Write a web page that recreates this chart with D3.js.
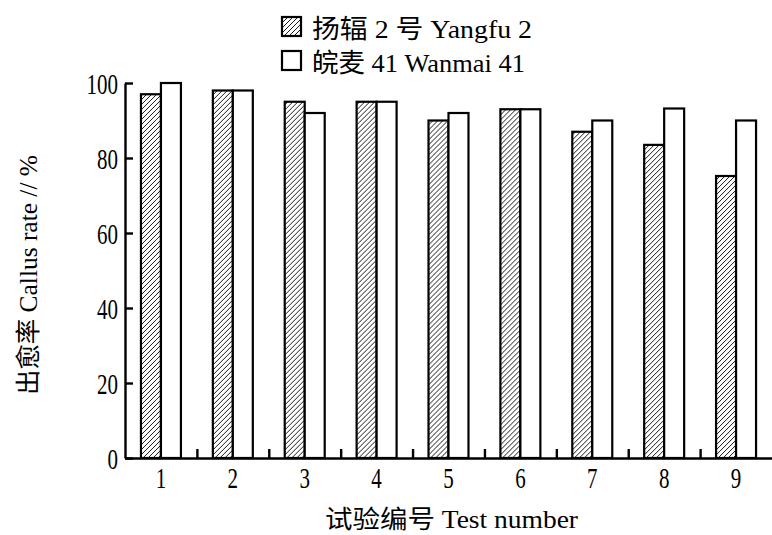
<!DOCTYPE html>
<html><head><meta charset="utf-8">
<script src="https://cdn.jsdelivr.net/npm/d3@7/dist/d3.min.js"></script>
<style>body{margin:0;background:#fff}svg{display:block}</style>
</head><body>
<svg id="chart" width="772" height="535"></svg>
<script>
const categories = ["1","2","3","4","5","6","7","8","9"];
const seriesNames = ["扬辐 2 号 Yangfu 2", "皖麦 41 Wanmai 41"];
const yangfu2 = [97, 98, 95, 95, 90, 93, 87, 83.5, 75.2];
const wanmai41 = [100, 98, 92, 95, 92, 93, 90, 93.2, 90];
const yTicks = [0, 20, 40, 60, 80, 100];
const xTitle = "试验编号 Test number";
const yTitle = "出愈率 Callus rate // %";

const svg = d3.select("#chart");
const M = {left:125, right:772, top:83, bottom:458};
const FONT = "'Liberation Serif','Noto Sans CJK SC',serif";
const SX = 0.7;

const defs = svg.append("defs");
const pat = defs.append("pattern").attr("id","hatch").attr("patternUnits","userSpaceOnUse")
  .attr("width",5).attr("height",5);
pat.append("rect").attr("width",5).attr("height",5).attr("fill","#fff");
pat.append("path").attr("d","M0,5 L5,0 M-1,1 L1,-1 M4,6 L6,4")
  .attr("stroke","#000").attr("stroke-width",0.9);

const y = d3.scaleLinear().domain([0,100]).range([M.bottom, M.top]);
const x0 = d3.scaleBand().domain(categories).range([M.left, M.right])
  .paddingInner(0.444).paddingOuter(0.222);
const x1 = d3.scaleBand().domain([0,1]).range([0, x0.bandwidth()]);
const xb = d3.scaleLinear().domain([0, categories.length]).range([M.left, M.right]);

const data = categories.map((c,i)=>({c, v:[yangfu2[i], wanmai41[i]]}));
const fills = ["url(#hatch)", "#fff"];

const g = svg.append("g");
g.selectAll("g.cat").data(data).join("g").attr("class","cat")
  .attr("transform", d=>`translate(${x0(d.c)},0)`)
  .selectAll("rect").data(d=>d.v.map((v,k)=>({v,k}))).join("rect")
  .attr("x", d=>x1(d.k)).attr("width", x1.bandwidth())
  .attr("y", d=>y(d.v)).attr("height", d=>y(0)-y(d.v))
  .attr("fill", d=>fills[d.k]).attr("stroke","#000").attr("stroke-width",2.2);

// Y axis
const yAxis = svg.append("g").attr("transform",`translate(${M.left},0)`)
  .call(d3.axisLeft(y).tickValues(yTicks).tickSize(-8).tickSizeOuter(0).tickPadding(8));
yAxis.select(".domain").attr("stroke-width",2.4);
yAxis.selectAll(".tick line").attr("stroke-width",2.4);
yAxis.selectAll("text").attr("font-family",FONT).attr("font-size",30)
  .attr("fill","#000").attr("transform",`scale(${SX},1)`).attr("x",-7/SX).attr("dy","0.34em");

// X axis labels
const xAxis = svg.append("g").attr("transform",`translate(0,${M.bottom})`)
  .call(d3.axisBottom(x0).tickSize(0).tickPadding(10));
xAxis.select(".domain").remove();
xAxis.selectAll(".tick").each(function(){
  const t = d3.select(this);
  const xx = +t.attr("transform").match(/translate\(([-\d.]+)/)[1];
  t.attr("transform",`translate(${xx},0)`);
  t.select("text").attr("font-family",FONT).attr("font-size",30).attr("fill","#000")
    .attr("transform",`scale(${SX},1)`).attr("y",30).attr("dy",0).attr("x",0);
});
// X axis line + boundary ticks
const xTickAxis = svg.append("g").attr("transform",`translate(0,${M.bottom})`)
  .call(d3.axisBottom(xb).tickValues(d3.range(1, categories.length)).tickSize(-9).tickSizeOuter(0).tickFormat(""));
xTickAxis.select(".domain").attr("stroke-width",2.4);
xTickAxis.selectAll(".tick line").attr("stroke-width",2.4);

// Axis titles
svg.append("text").attr("x",(M.left+M.right)/2+3).attr("y",528)
  .attr("text-anchor","middle").attr("font-family",FONT).attr("font-size",25)
  .attr("textLength",253).attr("lengthAdjust","spacingAndGlyphs").text(xTitle);
svg.append("text").attr("transform",`translate(37,275) rotate(-90)`)
  .attr("text-anchor","middle").attr("font-family",FONT).attr("font-size",25)
  .attr("textLength",240).attr("lengthAdjust","spacingAndGlyphs").text(yTitle);

// Legend
const legendLen = [220, 213];
const lg = svg.append("g");
seriesNames.forEach((name,k)=>{
  const yy = 17 + k*34;
  lg.append("rect").attr("x",282).attr("y",yy).attr("width",19).attr("height",19)
    .attr("fill",fills[k]).attr("stroke","#000").attr("stroke-width",2.2);
  lg.append("text").attr("x",312).attr("y",yy+21).attr("font-family",FONT).attr("font-size",26)
    .attr("textLength",legendLen[k]).attr("lengthAdjust","spacingAndGlyphs").text(name);
});
</script>
</body></html>
